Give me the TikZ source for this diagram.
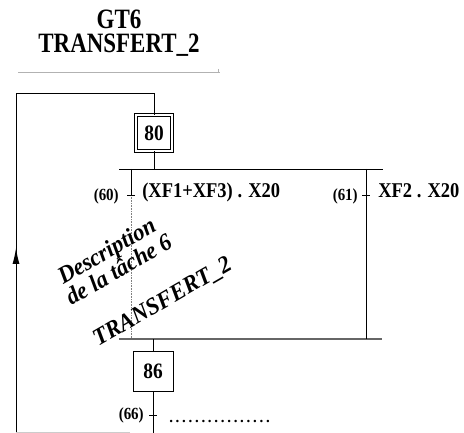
\documentclass[tikz,border=0pt]{standalone}
\usepackage{fontspec}
\setmainfont{Liberation Serif}
\usetikzlibrary{arrows.meta}

\newcommand{\serre}[2][0.88]{\scalebox{#1}[1]{#2}}

\tikzset{
    etape/.style={draw,line width=0.8pt,minimum size=40pt,inner sep=0pt,
        font=\bfseries\fontsize{22}{22}\selectfont},
    etapeinit/.style={etape,minimum size=36pt,double,line width=0.7pt,double distance=2.6pt},
    recept/.style={font=\bfseries\fontsize{21}{22}\selectfont,anchor=base west,inner sep=0pt},
    numtr/.style={font=\bfseries\fontsize{17}{18}\selectfont,anchor=base east,inner sep=0pt},
    tache/.style={font=\bfseries\itshape\fontsize{24}{24}\selectfont,anchor=base west,rotate=30,inner sep=0pt},
    titre/.style={font=\bfseries\fontsize{28}{30}\selectfont,inner sep=0pt}
}

\begin{document}
\begin{tikzpicture}[x=1pt,y=-1pt,line width=0.6pt]
    \useasboundingbox (0,0) rectangle (464,433);
    % titre du grafcet
    \node[titre] (gt) at (119,19) {\serre[0.82]{GT6}};
    \node[titre] (nom) at (119,45) {\serre[0.82]{TRANSFERT\_2}};
    \draw[gray!60,line width=0.5pt] (18,72) -- (220,72);
    \draw[gray!60,line width=0.5pt] (218,69) -- (218,72);

    % etapes
    \node[etapeinit] (e80) at (154,133) {\serre{80}};
    \node[etape] (e86) at (153,371) {\serre{86}};

    % divergence / convergence en OU
    \coordinate (div) at (154,169);
    \coordinate (conv) at (153,339);
    \coordinate (g1) at (131,169);
    \coordinate (d1) at (366,169);
    \coordinate (g2) at (131,339);
    \coordinate (d2) at (366,339);
    \coordinate (t60) at (131,195);
    \coordinate (t61) at (366,195);
    \coordinate (t66) at (153,415);
    \draw (119,169) -- (383,169);
    \draw[gray!80!black,line width=1.5pt] (119,339) -- (382,339);
    \draw (e80) -- (div);
    \draw (g1) -- (t60);
    \draw[densely dotted,gray] (t60) -- (g2);
    \draw (d1) -- (d2);
    \draw (conv) -- (e86);
    \draw (e86) -- (153,433);

    % transitions
    \foreach \t in {t60,t61,t66}
        \draw ([xshift=-4pt]\t) -- ([xshift=4pt]\t);
    \node[numtr] (n60) at (119,201) {\serre{(60)}};
    \node[recept] (r60) at (142,198) {\serre{(XF1+XF3) . X20}};
    \node[numtr] (n61) at (358,201) {\serre{(61)}};
    \node[recept] (r61) at (378,198) {\serre{XF2 . X20}};
    \node[numtr] (n66) at (144,419) {\serre{(66)}};
    \node[numtr,anchor=base west,font=\bfseries\fontsize{15}{16}\selectfont] (r66) at (169,422)
        {\addfontfeature{LetterSpace=18}................};

    % description de la tache
    \node[tache] (desc1) at (63,285) {\serre[0.95]{Description}};
    \node[tache] (desc2) at (71,306) {\serre[0.95]{de la tâche 6}};
    \node[tache] (desc3) at (98,347) {\serre[0.95]{TRANSFERT\_2}};

    % retour
    \coordinate (bas) at (16,432);
    \coordinate (haut) at (16,94);
    \coordinate (coin) at (154,94);
    \draw[line width=1pt] (bas) -- (haut) -- (coin) -- (e80);
    \draw[gray!40] (bas) -- (130,432);
    \draw[line width=1pt,-{Latex[length=16pt,width=7pt]}] (16,300) -- (16,248);
\end{tikzpicture}
\end{document}
